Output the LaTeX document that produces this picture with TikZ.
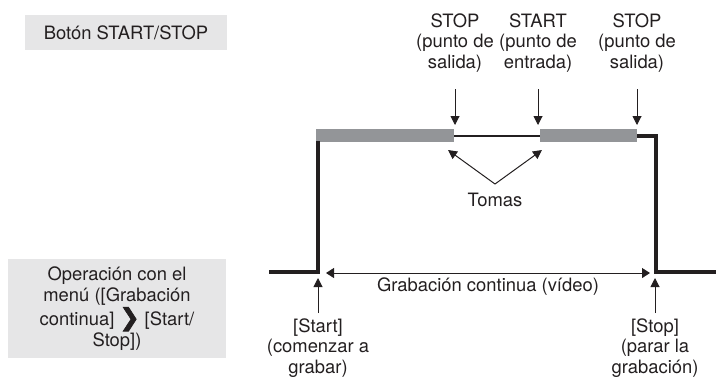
\documentclass[tikz,border=0pt]{standalone}
\usepackage{fontspec}
\setmainfont{TeX Gyre Heros}
\newfontfamily\symfont[FakeBold=3]{DejaVu Sans}
\usepackage{tikz}
\usetikzlibrary{arrows.meta,positioning}
\definecolor{CamInk}{HTML}{231F20}
\definecolor{CamBar}{HTML}{939598}
\definecolor{CamBox}{HTML}{E6E6E7}
\newcommand{\menuarrow}{{\symfont\bfseries\fontsize{12}{10.4}\selectfont ❯}}

\begin{document}
\begin{tikzpicture}[x=.5pt,y=-.5pt,
  lbl/.style={inner sep=0pt,align=center,font=\fontsize{9.2}{10.4}\selectfont,text=CamInk},
  panel/.style={lbl,fill=CamBox},
  ptr/.style={-{Triangle[length=4.5pt,width=4.5pt]},CamInk,line width=.5pt},
  span/.style={{Triangle[length=4pt,width=5pt]}-{Triangle[length=4pt,width=5pt]},CamInk,line width=.5pt},
  sig/.style={CamInk,line width=1.8pt}]
\useasboundingbox (0,0) rectangle (716,377);
% row titles
\node[panel,minimum width=101pt,minimum height=17.5pt] (btn) at (126,32.5) {Botón START/STOP};
\node[panel,minimum width=109pt,minimum height=49.5pt] (menu) at (117,308.5) {Operación con el\\menú ([Grabación\\continua] \menuarrow\ [Start/\\Stop])};
% signal with the takes
\fill[CamBar] (316,129) rectangle (454,142);
\fill[CamBar] (540,129) rectangle (637,142);
\draw[sig] (269,272) -- (318,272) -- (318,141);
\draw[CamInk,line width=1.3pt] (454,136) -- (540,136);
\draw[sig] (637,136) -- (656,136) -- (656,272) -- (716,272);
% button presses
\foreach \x/\n/\t in {455/a/{STOP\\(punto de\\salida)},538/b/{START\\(punto de\\entrada)},637/c/{STOP\\(punto de\\salida)}}{\coordinate (top\n) at (\x,89);\coordinate (tip\n) at (\x,125);\node[lbl,above=8pt of top\n] (press\n) {\t};\draw[ptr] (top\n) -- (tip\n);}
\coordinate (fork) at (495,184);\coordinate (cutA) at (448,150);\coordinate (cutB) at (542,150);
\node[lbl,below=4.5pt of fork] (takes) {Tomas};
\draw[ptr] (fork) -- (cutA);\draw[ptr] (fork) -- (cutB);
% menu operation
\coordinate (recL) at (326,273);\coordinate (recR) at (650,273);
\draw[span] (recL) -- (recR) node[lbl,midway,below=2pt] (rec) {Grabación continua (vídeo)};
\foreach \x/\n/\t in {318/s/{[Start]\\(comenzar a\\grabar)},655/e/{[Stop]\\(parar la\\grabación)}}{\coordinate (foot\n) at (\x,313);\coordinate (head\n) at (\x,278);\node[lbl,below=2.5pt of foot\n] (menu\n) {\t};\draw[ptr] (foot\n) -- (head\n);}
\end{tikzpicture}
\end{document}
